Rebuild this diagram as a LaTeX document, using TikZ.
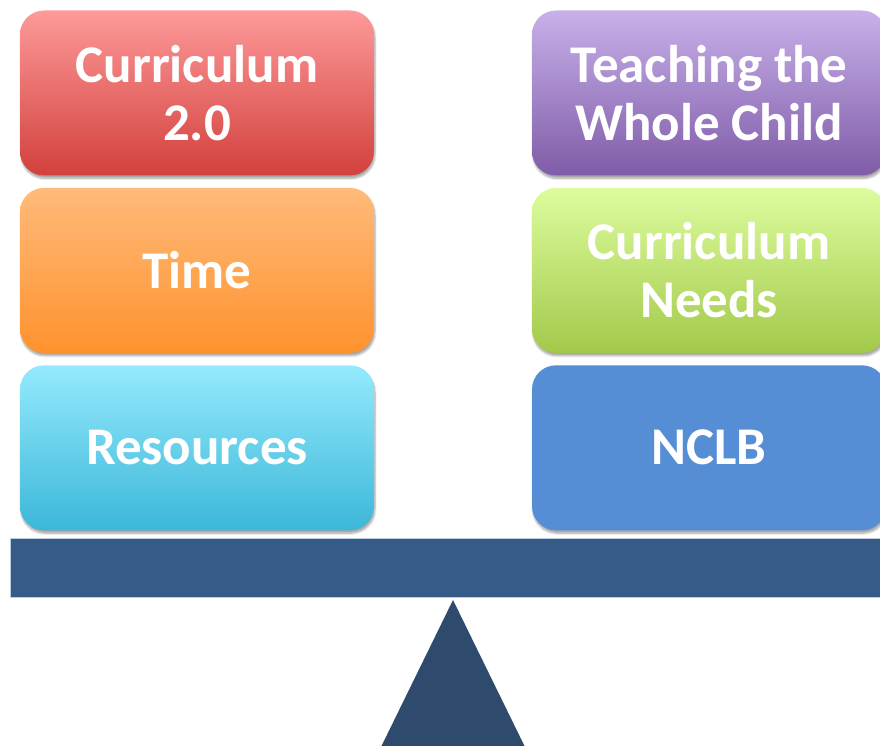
\documentclass[tikz,border=0pt]{standalone}
\usepackage{fontspec}
\setmainfont{Carlito}
\usetikzlibrary{positioning,shadows.blur}

\definecolor{beamblue}{RGB}{54,91,137}
\definecolor{baseblue}{RGB}{46,74,108}
\definecolor{nclbblue}{RGB}{85,142,213}

\tikzset{
	block/.style={rounded corners=24pt, minimum width=354pt, minimum height=165pt,
		align=center, text=white, font=\fontsize{53}{58}\selectfont\bfseries,
		blur shadow={shadow xshift=1pt, shadow yshift=-3pt, shadow blur steps=6, shadow opacity=35}},
	redbox/.style={block, top color={rgb,255:red,253;green,154;blue,154}, middle color={rgb,255:red,240;green,132;blue,130}, bottom color={rgb,255:red,210;green,64;blue,60}},
	orangebox/.style={block, top color={rgb,255:red,255;green,186;blue,122}, middle color={rgb,255:red,255;green,170;blue,95}, bottom color={rgb,255:red,255;green,146;blue,46}},
	cyanbox/.style={block, top color={rgb,255:red,148;green,234;blue,252}, middle color={rgb,255:red,112;green,212;blue,236}, bottom color={rgb,255:red,60;green,183;blue,217}},
	purplebox/.style={block, top color={rgb,255:red,200;green,176;blue,233}, middle color={rgb,255:red,170;green,143;blue,210}, bottom color={rgb,255:red,127;green,92;blue,168}},
	greenbox/.style={block, top color={rgb,255:red,220;green,252;blue,158}, middle color={rgb,255:red,196;green,228;blue,120}, bottom color={rgb,255:red,163;green,201;blue,74}},
	bluebox/.style={block, fill=nclbblue}
}

\begin{document}
\begin{tikzpicture}[x=1pt, y=1pt]
	\useasboundingbox (0,0) rectangle (880,745);
	\clip (0,0) rectangle (880,745);

	% left pan
	\node [redbox] (curriculum) at (197,652) {Curriculum\\2.0};
	\node [orangebox, below=12pt of curriculum] (time) {Time};
	\node [cyanbox, below=12pt of time] (resources) {Resources};

	% right pan
	\node [purplebox] (wholechild) at (709,652) {Teaching the\\Whole Child};
	\node [greenbox, below=12pt of wholechild] (needs) {Curriculum\\Needs};
	\node [bluebox, below=12pt of needs] (nclb) {NCLB};

	% beam and pivot
	\draw [fill=beamblue, draw={rgb,255:red,190;green,205;blue,225}, line width=0.8pt] (10,148) rectangle (890,207);
	\fill [baseblue] (453,145) coordinate (pivot) -- (525,-2) -- (381,-2) -- cycle;

\end{tikzpicture}
\end{document}
